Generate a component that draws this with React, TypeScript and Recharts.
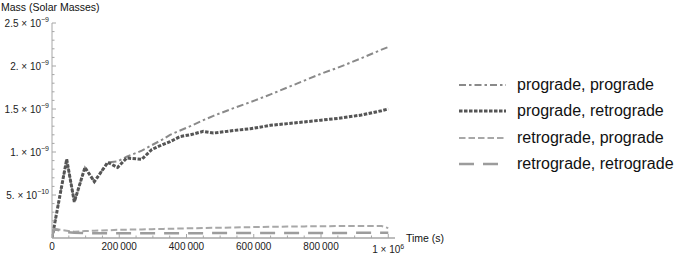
import React from 'react';
import { LineChart, Line, XAxis, YAxis } from 'recharts';

// Time in seconds
const TIME = [0, 5000, 43700, 66400, 98000, 126000, 166000, 195000, 222000, 267000, 297000, 331000, 351000, 381000, 411000, 450000, 480000, 540000, 590000, 650000, 700000, 750000, 800000, 850000, 920000, 980000, 1000000];
// Mass in units of 1e-9 solar masses
const PRO_PRO = [0, 0.105, 0.915, 0.42, 0.82, 0.655, 0.88, 0.89, 0.945, 1.015, 1.08, 1.15, 1.2, 1.25, 1.3, 1.37, 1.42, 1.51, 1.58, 1.67, 1.75, 1.83, 1.91, 1.98, 2.09, 2.19, 2.22];
const PRO_RETRO = [0, 0.105, 0.915, 0.42, 0.82, 0.655, 0.88, 0.82, 0.93, 0.915, 1.03, 1.09, 1.12, 1.18, 1.2, 1.24, 1.22, 1.25, 1.27, 1.31, 1.33, 1.35, 1.37, 1.39, 1.43, 1.48, 1.5];
const RETRO_PRO = [0, 0.105, 0.085, 0.073, 0.08, 0.085, 0.09, 0.095, 0.097, 0.1, 0.103, 0.106, 0.108, 0.11, 0.113, 0.116, 0.118, 0.122, 0.126, 0.13, 0.133, 0.135, 0.137, 0.139, 0.14, 0.14, 0.115];
const RETRO_RETRO = [0, 0.105, 0.07, 0.06, 0.057, 0.056, 0.055, 0.055, 0.055, 0.055, 0.055, 0.055, 0.055, 0.056, 0.056, 0.056, 0.057, 0.057, 0.057, 0.058, 0.058, 0.058, 0.059, 0.059, 0.06, 0.06, 0.06];

const SERIES_NAMES = ['prograde, prograde', 'prograde, retrograde', 'retrograde, prograde', 'retrograde, retrograde'];
const SERIES_KEYS = ['pp', 'pr', 'rp', 'rr'];
const SERIES_VALUES = [PRO_PRO, PRO_RETRO, RETRO_PRO, RETRO_RETRO];

const X_MAJOR_TICKS = [0, 200000, 400000, 600000, 800000, 1000000];
const X_TICK_LABELS = [
  { m: '0', e: '' },
  { m: '200\u2009000', e: '' },
  { m: '400\u2009000', e: '' },
  { m: '600\u2009000', e: '' },
  { m: '800\u2009000', e: '' },
  { m: '1 \u00d7 10', e: '6' },
];
const Y_MAJOR_TICKS = [0.5, 1, 1.5, 2, 2.5];
const Y_TICK_LABELS = [
  { m: '5. \u00d7 10', e: '\u221210' },
  { m: '1. \u00d7 10', e: '\u22129' },
  { m: '1.5 \u00d7 10', e: '\u22129' },
  { m: '2. \u00d7 10', e: '\u22129' },
  { m: '2.5 \u00d7 10', e: '\u22129' },
];

const STYLES = [
  { color: '#8a8a8a', width: 2, dash: '7 3 2.5 3' },
  { color: '#555555', width: 3, dash: '3.5 1.5' },
  { color: '#a8a8a8', width: 2, dash: '6.5 3' },
  { color: '#9c9c9c', width: 2.5, dash: '15 9' },
];

const X_ALL_TICKS: number[] = [];
for (let i = 0; i <= 20; i++) X_ALL_TICKS.push(i * 50000);
const Y_ALL_TICKS: number[] = [];
for (let i = 0; i <= 25; i++) Y_ALL_TICKS.push(i / 10);

const data = TIME.map((t, i) => {
  const row: any = { t };
  SERIES_KEYS.forEach((k, j) => (row[k] = SERIES_VALUES[j][i]));
  return row;
});

const FONT = '"Liberation Sans", Arial, sans-serif';
const AXIS_COLOR = '#a6a6a6';

const YTick = (props: any) => {
  const { x, y, payload } = props;
  const v = payload.value;
  const idx = Y_MAJOR_TICKS.findIndex((m) => Math.abs(m - v) < 1e-6);
  const major = idx >= 0;
  if (Math.abs(v) < 1e-9) return <g />;
  return (
    <g>
      <line x1={x} x2={x + (major ? 4 : 2.5)} y1={y} y2={y} stroke={AXIS_COLOR} strokeWidth={1} />
      {major && (
        <text x={x - 3} y={y + 3.5} textAnchor="end" fontSize={10} fontFamily={FONT} fill="#222">
          {Y_TICK_LABELS[idx].m}
          <tspan dy={-4.5} fontSize={7}>{Y_TICK_LABELS[idx].e}</tspan>
        </text>
      )}
    </g>
  );
};

const XTick = (props: any) => {
  const { x, y, payload } = props;
  const v = payload.value;
  const idx = X_MAJOR_TICKS.findIndex((m) => Math.abs(m - v) < 1);
  const major = idx >= 0;
  const hasExp = major && X_TICK_LABELS[idx].e !== '';
  return (
    <g>
      <line x1={x} x2={x} y1={y} y2={y - (major ? 4 : 2.5)} stroke={AXIS_COLOR} strokeWidth={1} />
      {major && (
        <text x={x} y={y + (hasExp ? 15 : 12)} textAnchor="middle" fontSize={10} fontFamily={FONT} fill="#222">
          {X_TICK_LABELS[idx].m}
          {hasExp && <tspan dy={-4.5} fontSize={7}>{X_TICK_LABELS[idx].e}</tspan>}
        </text>
      )}
    </g>
  );
};

const LegendBox = () => (
  <div style={{ position: 'absolute', left: 459, top: 71.25, width: 231, fontFamily: FONT }}>
    {SERIES_NAMES.map((name, i) => (
      <div key={name} style={{ display: 'flex', alignItems: 'center', height: 26.5 }}>
        <svg width={47} height={10} style={{ display: 'block' }}>
          <line x1={0} x2={47} y1={5} y2={5} stroke={STYLES[i].color} strokeWidth={STYLES[i].width} strokeDasharray={STYLES[i].dash} />
        </svg>
        <span style={{ marginLeft: 11, fontSize: 16, color: '#111', whiteSpace: 'nowrap' }}>{name}</span>
      </div>
    ))}
  </div>
);

export default function App() {
  return (
    <div style={{ position: 'absolute', left: 0, top: 0, width: 690, height: 260, background: '#fff', fontFamily: FONT }}>
      <LineChart width={690} height={260} data={data} margin={{ top: 23, right: 295, bottom: 0, left: 0 }}>
        <XAxis
          dataKey="t"
          type="number"
          domain={[0, 1020000]}
          ticks={X_ALL_TICKS}
          interval={0}
          tick={<XTick />}
          tickSize={0}
          tickMargin={0}
          tickLine={false}
          height={22}
          axisLine={{ stroke: AXIS_COLOR, strokeWidth: 1.5 }}
          allowDataOverflow
        />
        <YAxis
          type="number"
          domain={[0, 2.5]}
          ticks={Y_ALL_TICKS}
          interval={0}
          tick={<YTick />}
          tickSize={0}
          tickMargin={0}
          tickLine={false}
          width={52}
          axisLine={{ stroke: AXIS_COLOR, strokeWidth: 1 }}
          allowDataOverflow
        />
        {SERIES_KEYS.map((k, i) => (
          <Line
            key={k}
            dataKey={k}
            name={SERIES_NAMES[i]}
            type="linear"
            stroke={STYLES[i].color}
            strokeWidth={STYLES[i].width}
            strokeDasharray={STYLES[i].dash}
            dot={false}
            activeDot={false}
            isAnimationActive={false}
          />
        ))}
      </LineChart>
      <LegendBox />
      <div style={{ position: 'absolute', left: 1, top: 1, fontSize: 10.5, color: '#111', whiteSpace: 'nowrap' }}>Mass (Solar Masses)</div>
      <div style={{ position: 'absolute', left: 406, top: 232, fontSize: 10.5, color: '#111', whiteSpace: 'nowrap' }}>Time (s)</div>
    </div>
  );
}
